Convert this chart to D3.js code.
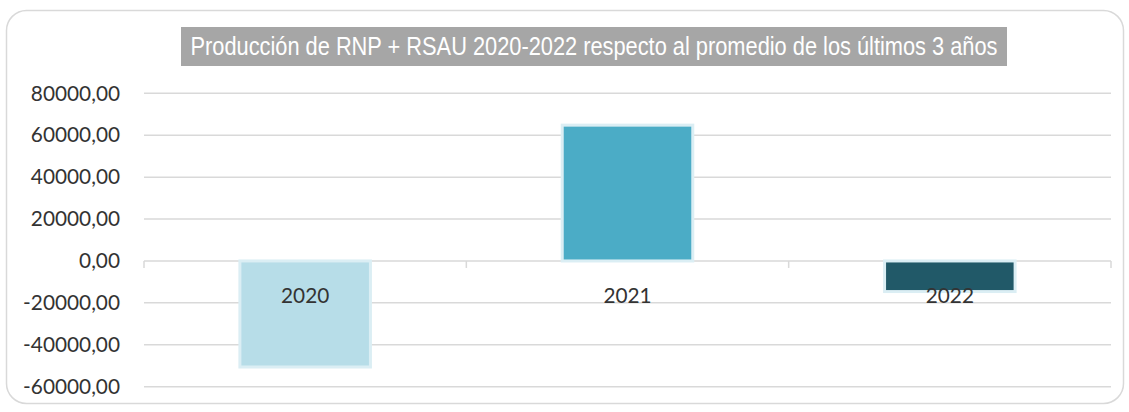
<!DOCTYPE html>
<html>
<head>
<meta charset="utf-8">
<script src="https://cdn.jsdelivr.net/npm/d3@7"></script>
<style>
html,body{margin:0;padding:0;background:#fff;}
svg{display:block;}
</style>
</head>
<body>
<svg id="chart" width="1129" height="412"></svg>
<script>
const categories = ["2020", "2021", "2022"];
const values = [-50600, 64800, -14600];
const barColors = ["#b7dde8", "#4bacc6", "#215968"];
const yTicks = [-60000, -40000, -20000, 0, 20000, 40000, 60000, 80000];
const title = "Producción de RNP + RSAU 2020-2022 respecto al promedio de los últimos 3 años";

const svg = d3.select("#chart");

// outer border
svg.append("rect")
  .attr("x", 6.5).attr("y", 10.5)
  .attr("width", 1117).attr("height", 393)
  .attr("rx", 20).attr("ry", 20)
  .attr("fill", "#fff").attr("stroke", "#d9d9d9").attr("stroke-width", 1.5);

const plot = {left: 144, right: 1111, top: 93.3, bottom: 386.7};

const y = d3.scaleLinear().domain([-60000, 80000]).range([plot.bottom, plot.top]);
const x = d3.scaleBand().domain(categories).range([plot.left, plot.right]).paddingInner(0).paddingOuter(0);

// gridlines
svg.append("g").selectAll("line").data(yTicks).join("line")
  .attr("x1", plot.left).attr("x2", plot.right)
  .attr("y1", d => y(d)).attr("y2", d => y(d))
  .attr("stroke", "#d9d9d9").attr("stroke-width", 1.5);

// y labels
const fmt = d => d3.format(".2f")(d).replace(".", ",").replace("−", "-");
svg.append("g").selectAll("text").data(yTicks).join("text")
  .attr("x", 120).attr("y", d => y(d))
  .attr("dy", "0.35em")
  .attr("text-anchor", "end")
  .attr("font-family", "Lato, 'Open Sans', sans-serif")
  .attr("font-size", 20.8)
  .attr("fill", "#333")
  .text(d => fmt(d));

// category tick marks on zero axis
const tickX = [plot.left, ...categories.slice(1).map(c => x(c)), plot.right];
svg.append("g").selectAll("line").data(tickX).join("line")
  .attr("x1", d => d).attr("x2", d => d)
  .attr("y1", y(0)).attr("y2", y(0) + 7)
  .attr("stroke", "#d9d9d9").attr("stroke-width", 1.5);

// bars
const bw = x.bandwidth() * 0.405;
svg.append("g").selectAll("rect").data(categories).join("rect")
  .attr("x", d => x(d) + x.bandwidth() / 2 - bw / 2)
  .attr("width", bw)
  .attr("y", (d, i) => y(Math.max(0, values[i])))
  .attr("height", (d, i) => Math.abs(y(values[i]) - y(0)))
  .attr("fill", (d, i) => barColors[i])
  .attr("stroke", "#dbeef4").attr("stroke-width", 3);

// category labels
svg.append("g").selectAll("text").data(categories).join("text")
  .attr("x", d => x(d) + x.bandwidth() / 2)
  .attr("y", y(0) + 42)
  .attr("text-anchor", "middle")
  .attr("font-family", "Lato, 'Open Sans', sans-serif")
  .attr("font-size", 20.8)
  .attr("fill", "#333")
  .text(d => d);

// title
svg.append("rect")
  .attr("x", 181).attr("y", 27).attr("width", 826).attr("height", 39)
  .attr("fill", "#a6a6a6");
svg.append("text")
  .attr("x", 594).attr("y", 54.5)
  .attr("text-anchor", "middle")
  .attr("font-family", "'Liberation Sans Narrow', 'Liberation Sans', Arial, sans-serif")
  .attr("font-size", 25)
  .attr("fill", "#fff")
  .attr("textLength", 807)
  .attr("lengthAdjust", "spacingAndGlyphs")
  .text(title);
</script>
</body>
</html>
